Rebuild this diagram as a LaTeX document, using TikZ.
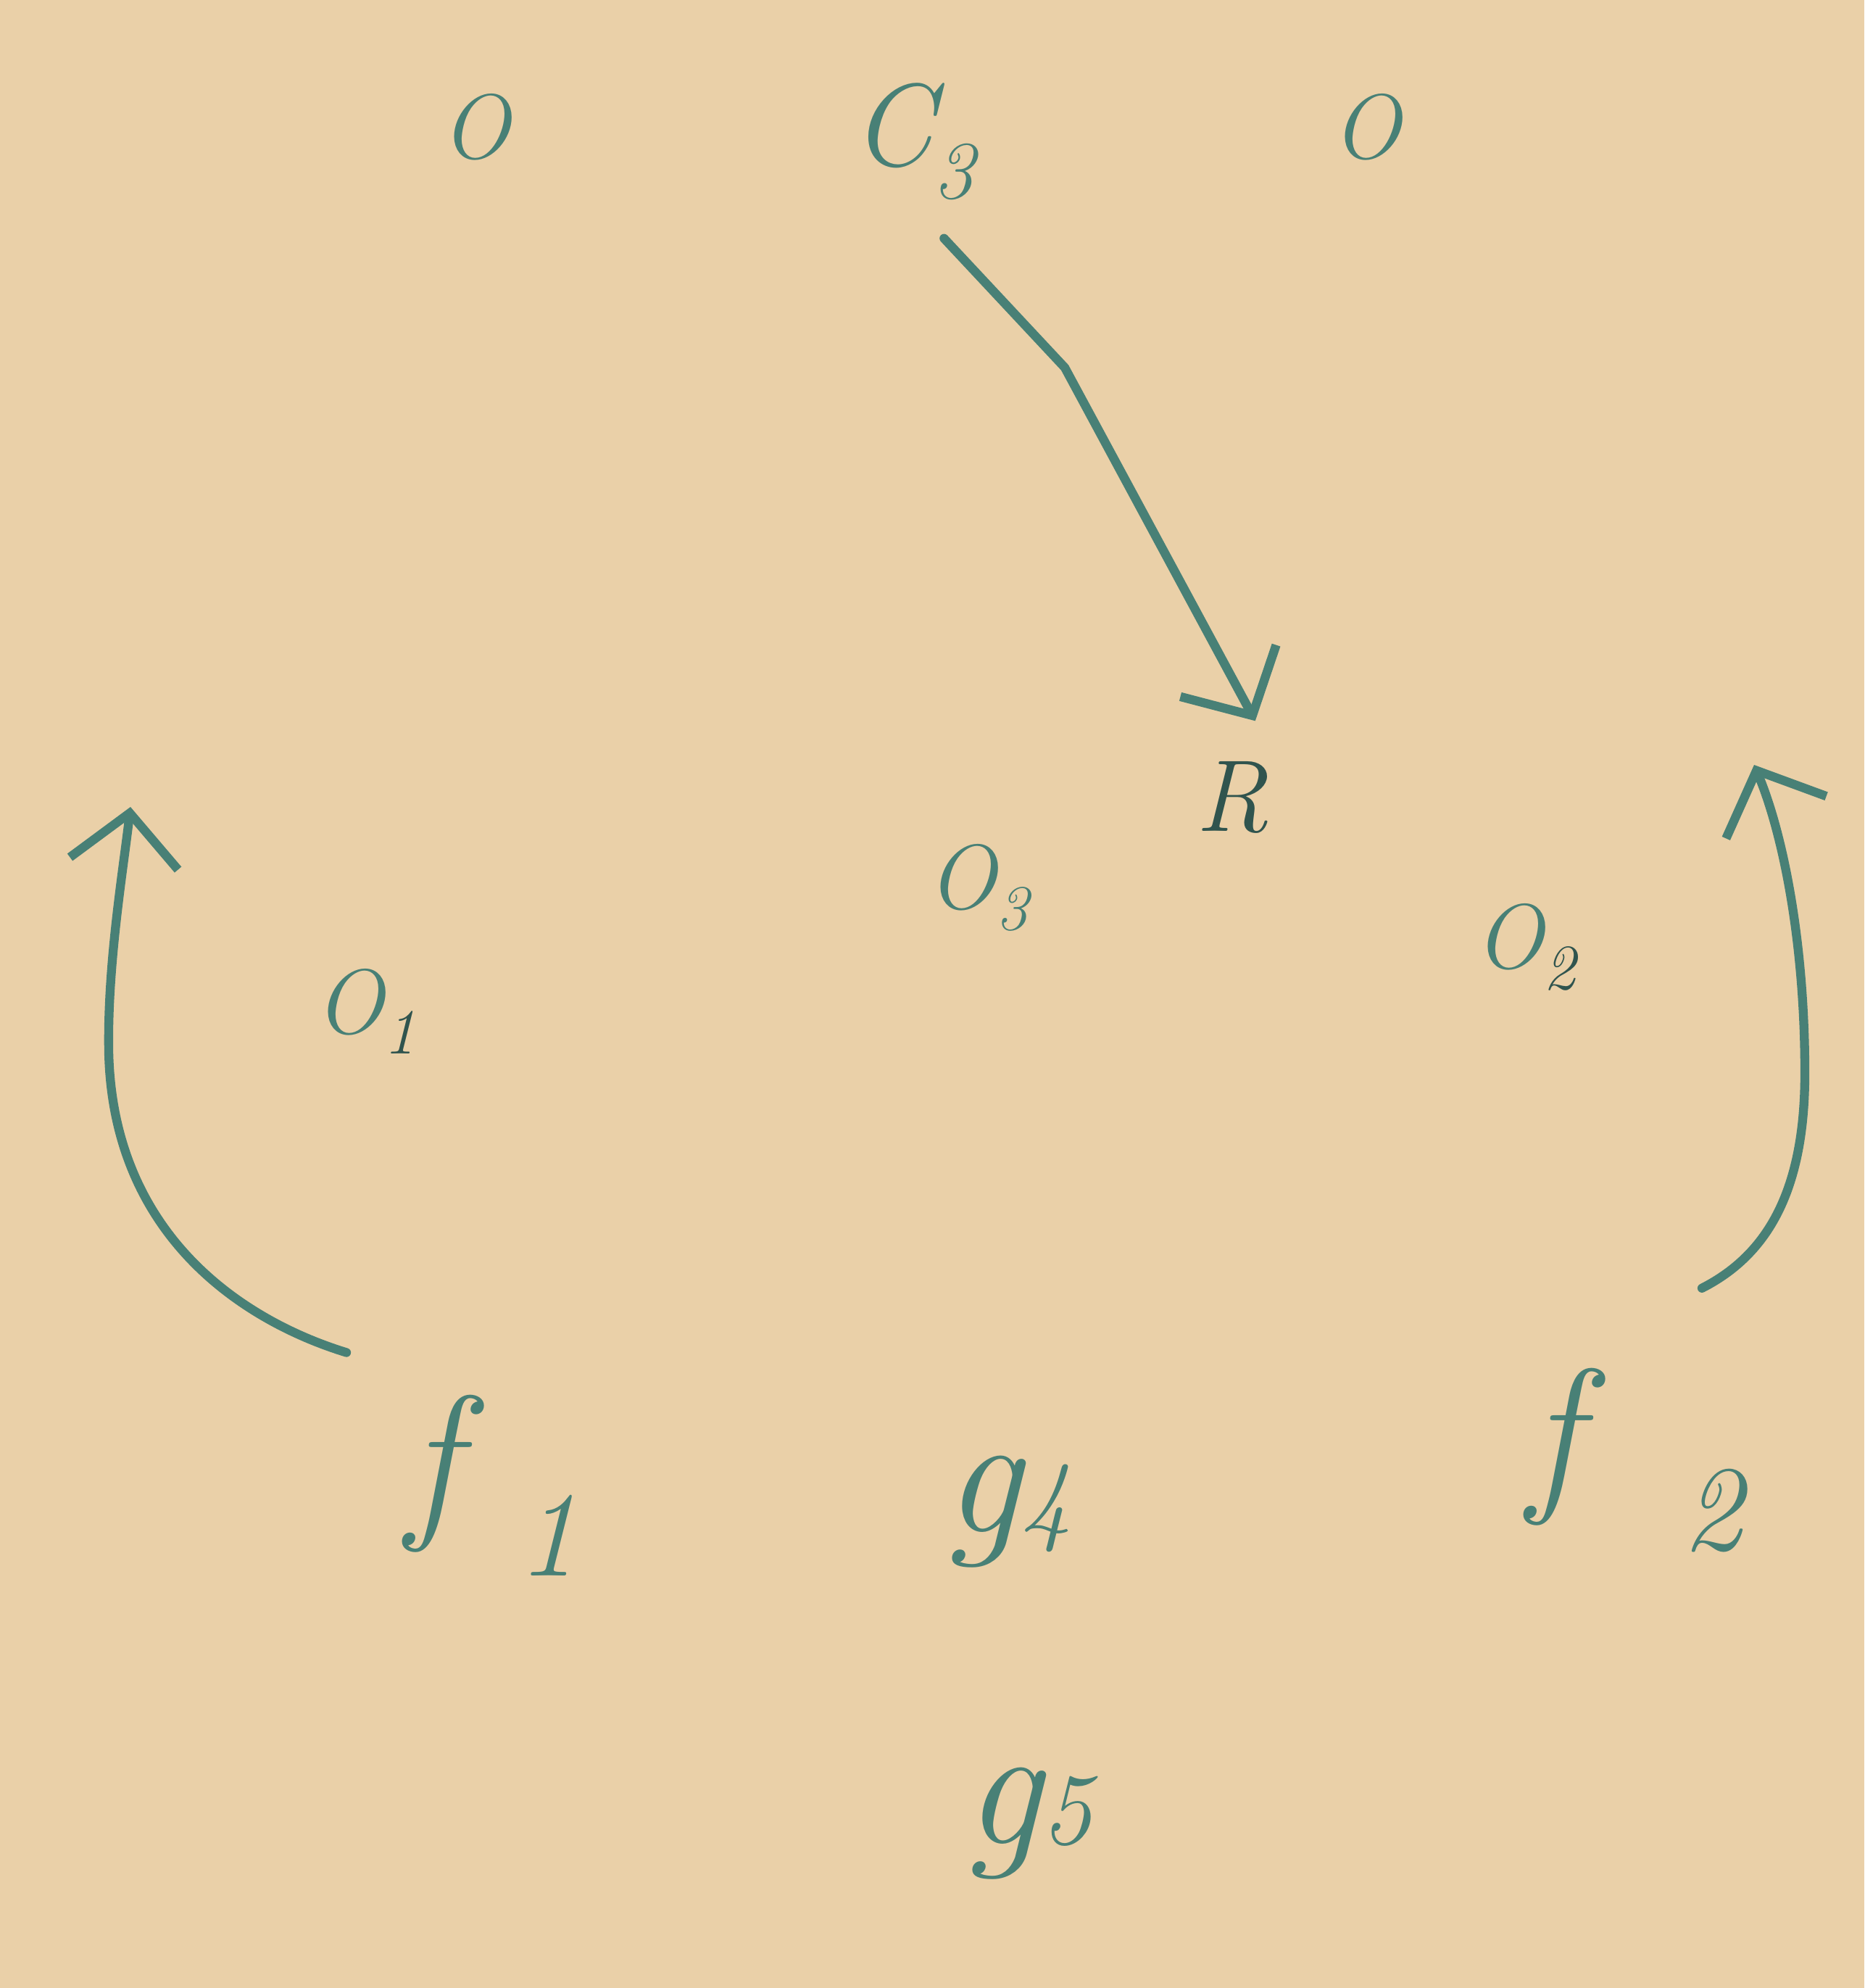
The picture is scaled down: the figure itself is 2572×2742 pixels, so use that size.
\documentclass[tikz,border=0pt]{standalone}
\usepackage{fontspec}
\usepackage{tikz}
\usetikzlibrary{arrows.meta, positioning}
\usepackage{xcolor}
\definecolor{paper}{RGB}{234, 208, 168}
\definecolor{ink}{RGB}{72, 128, 118}
\definecolor{inkdark}{RGB}{48, 84, 78}
\newcommand{\gidx}[1]{{\fontsize{40}{44}\selectfont #1}}

\begin{document}
\begin{tikzpicture}[
    x=0.01cm, y=-0.01cm,
    sym/.style={text=ink, inner sep=2pt, font=\itshape\fontsize{36}{40}\selectfont},
    fun/.style={text=ink, inner sep=2pt, font=\itshape\fontsize{68}{72}\selectfont},
    arr/.style={-{Straight Barb[length=0.7cm, width=1.5cm]}, line width=3.5pt, color=ink, line cap=round}
  ]
  \fill[paper] (0,0) rectangle (2572,2742);
  \useasboundingbox (0,0) rectangle (2572,2742);
  % top row
  \node[sym] (otl) at (656,175) {O};
  \node[sym, font=\itshape\fontsize{46}{50}\selectfont] (c3) at (1260,195) {C\textsubscript{3}};
  \node[sym] (otr) at (1885,175) {O};
  % middle
  \node[sym, text=inkdark, font=\itshape\fontsize{40}{44}\selectfont] (r) at (1700,1100) {R};
  \node[sym] (o3) at (1350,1224) {O\textsubscript{3}};
  \node[sym] (o1) at (505,1395) {O\textsubscript{\textcolor{inkdark}{1}}};
  \node[sym] (o2) at (2105,1306) {O\textsubscript{\textcolor{inkdark}{2}}};
  % bottom
  \node[fun] (f1) at (680,2049) {f\kern0.8cm\textsubscript{1}};
  \node[fun] (g4) at (1390,2085) {g\gidx{4}};
  \node[fun] (f2) at (2257,2014) {f\kern1.4cm\textsubscript{2}};
  \node[fun] (g5) at (1418,2515) {g\gidx{5}};
  % arrows
  \coordinate (kink) at (1469,507);
  \coordinate (tipL) at (180,1113);
  \coordinate (tipR) at (2420,1055);
  \draw[arr, shorten <=0.62cm, shorten >=0.55cm] (c3.south) -- (kink) -- (r.north east);
  \draw[arr] ([shift={(-202,-51)}]f1.north) .. controls (330,1820) and (155,1700) .. (150,1450)
    .. controls (148,1330) and (170,1200) .. (tipL);
  \draw[arr] ([shift={(91,-103)}]f2.north) .. controls (2440,1730) and (2490,1640) .. (2490,1480)
    .. controls (2490,1300) and (2460,1150) .. (tipR);
\end{tikzpicture}
\end{document}
